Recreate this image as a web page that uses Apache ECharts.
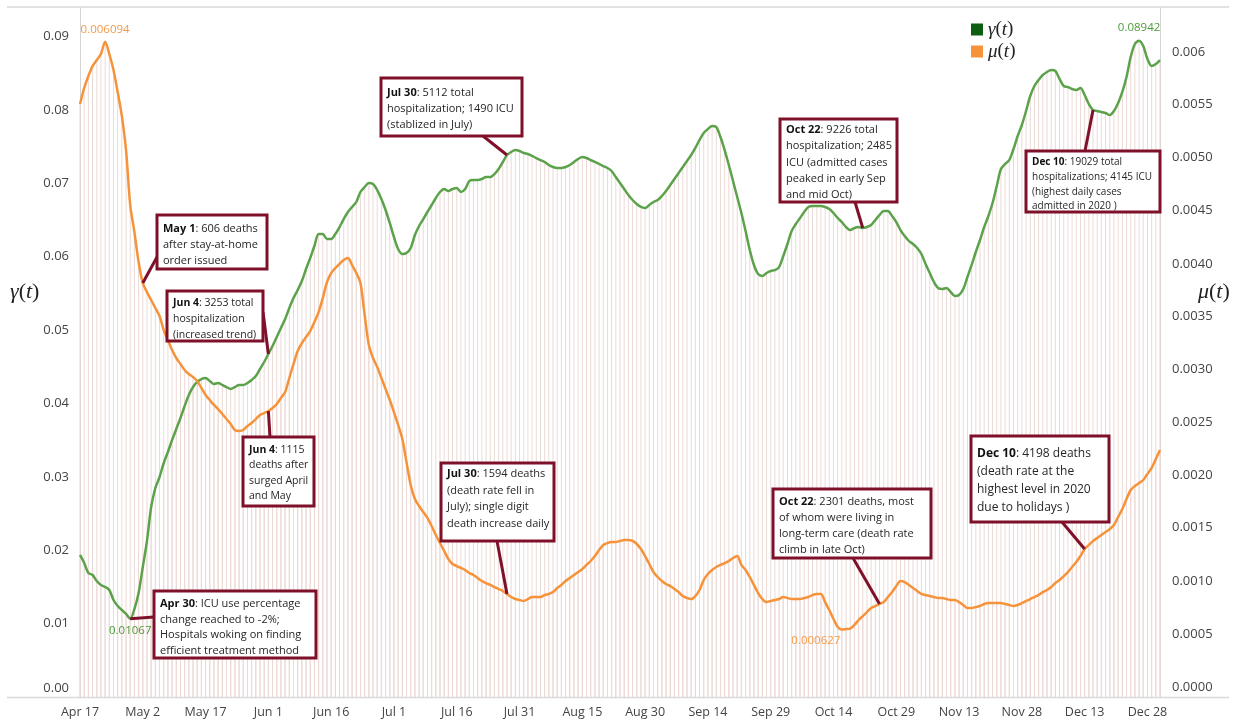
<!DOCTYPE html>
<html><head><meta charset="utf-8">
<script src="https://cdn.jsdelivr.net/npm/echarts@6/dist/echarts.min.js"></script>
<style>html,body{margin:0;padding:0;background:#fff}#c{width:1235px;height:725px}</style>
</head><body><div id="c"></div>
<script>
// ---------- data ----------
const monthNames = ['Jan','Feb','Mar','Apr','May','Jun','Jul','Aug','Sep','Oct','Nov','Dec'];
const firstDay = [2020, 3, 17];   // Apr 17, 2020
const dayCount = 259;             // through Dec 31
const categories = [];
for (let i = 0; i < dayCount; i++) {
  const d = new Date(Date.UTC(firstDay[0], firstDay[1], firstDay[2] + i));
  categories.push(monthNames[d.getUTCMonth()] + ' ' + d.getUTCDate());
}

// gamma(t) – left axis
const gamma = [
0.01935,0.01826,0.01689,0.01662,0.01580,0.01526,0.01499,0.01458,0.01322,0.01240,
0.01185,0.01131,0.01067,0.01199,0.01417,0.01771,0.02125,0.02589,0.02847,0.02997,
0.03188,0.03338,0.03501,0.03651,0.03801,0.03965,0.04114,0.04223,0.04292,0.04332,
0.04346,0.04305,0.04264,0.04278,0.04251,0.04223,0.04196,0.04223,0.04251,0.04251,
0.04278,0.04319,0.04373,0.04469,0.04564,0.04673,0.04782,0.04905,0.05027,0.05150,
0.05300,0.05436,0.05545,0.05668,0.05831,0.05981,0.06144,0.06308,0.06308,0.06240,
0.06240,0.06308,0.06403,0.06512,0.06608,0.06676,0.06744,0.06880,0.06948,0.07003,
0.06989,0.06907,0.06785,0.06635,0.06458,0.06267,0.06104,0.06035,0.06049,0.06117,
0.06294,0.06417,0.06512,0.06608,0.06703,0.06798,0.06880,0.06921,0.06894,0.06921,
0.06935,0.06880,0.06921,0.07030,0.07044,0.07044,0.07057,0.07084,0.07084,0.07125,
0.07193,0.07289,0.07384,0.07425,0.07452,0.07439,0.07411,0.07398,0.07371,0.07343,
0.07316,0.07289,0.07248,0.07221,0.07207,0.07207,0.07221,0.07248,0.07289,0.07330,
0.07357,0.07343,0.07316,0.07289,0.07262,0.07234,0.07207,0.07166,0.07084,0.07003,
0.06921,0.06839,0.06771,0.06717,0.06676,0.06662,0.06703,0.06744,0.06771,0.06826,
0.06894,0.06975,0.07057,0.07139,0.07221,0.07302,0.07384,0.07480,0.07589,0.07684,
0.07738,0.07779,0.07766,0.07629,0.07452,0.07248,0.07030,0.06812,0.06594,0.06349,
0.06090,0.05886,0.05763,0.05736,0.05777,0.05804,0.05817,0.05858,0.06008,0.06172,
0.06349,0.06444,0.06526,0.06608,0.06676,0.06689,0.06689,0.06689,0.06676,0.06649,
0.06594,0.06526,0.06471,0.06403,0.06362,0.06390,0.06403,0.06390,0.06403,0.06431,
0.06499,0.06567,0.06621,0.06621,0.06553,0.06471,0.06362,0.06281,0.06213,0.06172,
0.06117,0.06035,0.05899,0.05777,0.05654,0.05572,0.05559,0.05572,0.05518,0.05463,
0.05477,0.05559,0.05722,0.05886,0.06063,0.06226,0.06403,0.06553,0.06730,0.06962,
0.07193,0.07262,0.07316,0.07466,0.07643,0.07793,0.07984,0.08188,0.08324,0.08406,
0.08474,0.08515,0.08542,0.08529,0.08420,0.08324,0.08311,0.08283,0.08270,0.08297,
0.08202,0.08079,0.07997,0.07984,0.07970,0.07956,0.07929,0.07984,0.08093,0.08243,
0.08447,0.08719,0.08896,0.08942,0.08869,0.08692,0.08597,0.08624,0.08678
];

// mu(t) – right axis
const mu = [
0.005515,0.005664,0.005775,0.005868,0.005924,0.005980,0.006094,0.005980,0.005831,0.005626,
0.005403,0.005087,0.004575,0.004324,0.004045,0.003850,0.003766,0.003692,0.003618,0.003543,
0.003413,0.003320,0.003227,0.003153,0.003097,0.003041,0.003004,0.002976,0.002939,0.002874,
0.002809,0.002762,0.002716,0.002678,0.002632,0.002585,0.002539,0.002483,0.002474,0.002483,
0.002520,0.002548,0.002585,0.002623,0.002641,0.002660,0.002688,0.002725,0.002781,0.002836,
0.002967,0.003097,0.003218,0.003292,0.003348,0.003404,0.003487,0.003580,0.003711,0.003859,
0.003943,0.003990,0.004027,0.004064,0.004083,0.004017,0.003943,0.003850,0.003553,0.003274,
0.003153,0.003069,0.002967,0.002864,0.002762,0.002650,0.002530,0.002399,0.002185,0.001972,
0.001841,0.001776,0.001720,0.001665,0.001590,0.001507,0.001432,0.001358,0.001283,0.001237,
0.001218,0.001200,0.001181,0.001153,0.001135,0.001107,0.001079,0.001060,0.001042,0.001023,
0.001004,0.000986,0.000958,0.000930,0.000911,0.000902,0.000893,0.000911,0.000930,0.000930,
0.000930,0.000949,0.000958,0.000976,0.001014,0.001042,0.001079,0.001107,0.001135,0.001162,
0.001190,0.001228,0.001265,0.001311,0.001367,0.001414,0.001432,0.001441,0.001441,0.001451,
0.001460,0.001460,0.001451,0.001423,0.001376,0.001311,0.001237,0.001162,0.001116,0.001079,
0.001051,0.001032,0.001004,0.000976,0.000939,0.000921,0.000911,0.000939,0.000995,0.001088,
0.001144,0.001181,0.001209,0.001228,0.001246,0.001265,0.001293,0.001311,0.001228,0.001181,
0.001116,0.001042,0.000967,0.000911,0.000883,0.000893,0.000902,0.000911,0.000930,0.000921,
0.000911,0.000911,0.000911,0.000921,0.000930,0.000949,0.000958,0.000958,0.000883,0.000809,
0.000725,0.000651,0.000627,0.000632,0.000636,0.000670,0.000716,0.000753,0.000790,0.000828,
0.000846,0.000865,0.000883,0.000930,0.000976,0.001032,0.001079,0.001069,0.001042,0.001014,
0.000986,0.000958,0.000949,0.000939,0.000930,0.000921,0.000921,0.000911,0.000902,0.000902,
0.000883,0.000856,0.000828,0.000828,0.000837,0.000846,0.000865,0.000874,0.000874,0.000874,
0.000874,0.000865,0.000856,0.000846,0.000856,0.000874,0.000893,0.000911,0.000930,0.000949,
0.000976,0.000995,0.001023,0.001060,0.001088,0.001125,0.001162,0.001209,0.001255,0.001311,
0.001376,0.001414,0.001451,0.001479,0.001507,0.001534,0.001562,0.001600,0.001674,0.001748,
0.001841,0.001925,0.001962,0.001990,0.002018,0.002074,0.002130,0.002213,0.002297
];

const seriesNames = ['γ(t)', 'μ(t)'];

// annotation texts (series: 0 = gamma, 1 = mu; at = category index the callout points to)
const notes = [
  {series: 0, at: 12,  head: 'Apr 30', body: ': ICU use percentage\nchange reached to -2%;\nHospitals woking on finding\nefficient treatment method'},
  {series: 1, at: 15,  head: 'May 1',  body: ': 606 deaths\nafter stay-at-home\norder issued'},
  {series: 0, at: 45,  head: 'Jun 4',  body: ': 3253 total\nhospitalization\n(increased trend)'},
  {series: 1, at: 45,  head: 'Jun 4',  body: ': 1115\ndeaths after\nsurged April\nand May'},
  {series: 0, at: 102, head: 'Jul 30', body: ': 5112 total\nhospitalization; 1490 ICU\n(stablized in July)'},
  {series: 1, at: 102, head: 'Jul 30', body: ': 1594 deaths\n(death rate fell in\nJuly); single digit\ndeath increase daily'},
  {series: 0, at: 187, head: 'Oct 22', body: ': 9226 total\nhospitalization; 2485\nICU (admitted cases\npeaked in early Sep\nand mid Oct)'},
  {series: 1, at: 191, head: 'Oct 22', body: ': 2301 deaths, most\nof whom were living in\nlong-term care (death rate\nclimb in late Oct)'},
  {series: 0, at: 242, head: 'Dec 10', body: ': 19029 total\nhospitalizations; 4145 ICU\n(highest daily cases\nadmitted in 2020 )'},
  {series: 1, at: 240, head: 'Dec 10', body: ': 4198 deaths\n(death rate at the\nhighest level in 2020\ndue to holidays )'}
];

// ---------- layout / style ----------
const noteLayout = [
  {box: [154, 591, 162, 67], end: [154, 617], fs: 11,   lh: 15.7, pad: 3},
  {box: [157, 215, 110, 54], end: [157, 257], fs: 11,   lh: 16,   pad: 4},
  {box: [167, 291, 96, 50],  end: [263, 312], fs: 10.5, lh: 16,   pad: 2},
  {box: [243, 437, 71, 69],  end: [270, 437], fs: 10.5, lh: 15.5, pad: 3},
  {box: [381, 78, 141, 58],  end: [483, 136], fs: 11,   lh: 16,   pad: 5},
  {box: [441, 463, 113, 78], end: [497, 541], fs: 11,   lh: 16.5, pad: 1},
  {box: [780, 119, 117, 83], end: [855, 202], fs: 11,   lh: 16.2, pad: 1},
  {box: [773, 489, 158, 69], end: [853, 558], fs: 11,   lh: 16,   pad: 3},
  {box: [1026, 151, 134, 61], end: [1085, 151], fs: 10, lh: 14.7, pad: 2},
  {box: [971, 436, 138, 86],  end: [1062, 522], fs: 12,  lh: 17.8, pad: 7}
];
const FONT = '"Open Sans", "Noto Sans", sans-serif';
const GREEN = '#5ca24b', GREEN_DARK = '#0d5e10', ORANGE = '#f5923a', RED = '#7e1129', HATCH = '#ebdad6';

function markLinesFor(si) {
  const vals = si === 0 ? gamma : mu;
  const out = [];
  notes.forEach((n, k) => {
    if (n.series !== si) return;
    const L = noteLayout[k];
    out.push([{coord: [categories[n.at], vals[n.at]]}, {x: L.end[0], y: L.end[1]}]);
  });
  return out;
}

const graphics = [];
notes.forEach((n, k) => {
  const L = noteLayout[k];
  graphics.push({type: 'rect', z: 100, shape: {x: L.box[0], y: L.box[1], width: L.box[2], height: L.box[3]},
    style: {fill: '#fff', stroke: RED, lineWidth: 3}});
  graphics.push({type: 'text', z: 101, x: L.box[0] + 6, y: L.box[1] + L.pad + 2,
    style: {text: '{b|' + n.head + '}' + n.body,
            fill: '#262626', fontFamily: FONT, fontSize: L.fs, lineHeight: L.lh,
            verticalAlign: 'top',
            rich: {b: {fontWeight: 'bold', fill: '#111', fontFamily: FONT, fontSize: L.fs, lineHeight: L.lh}}}});
});
// frame lines
graphics.push({type: 'line', z: 0, shape: {x1: 7, y1: 7, x2: 1229, y2: 7}, style: {stroke: '#e2e2e2', lineWidth: 2}});
graphics.push({type: 'line', z: 0, shape: {x1: 7, y1: 697.5, x2: 1229, y2: 697.5}, style: {stroke: '#d9d9d9', lineWidth: 1.5}});
// axis titles
const titleRich = {
  i: {fontFamily: '"Liberation Serif", "DejaVu Serif", serif', fontStyle: 'italic', fontSize: 22, fill: '#222'},
  u: {fontFamily: '"Liberation Serif", "DejaVu Serif", serif', fontSize: 22, fill: '#222'}
};
graphics.push({type: 'text', z: 50, x: 10, y: 281, style: {text: '{i|γ}{u|(}{i|t}{u|)}', rich: titleRich, verticalAlign: 'top'}});
graphics.push({type: 'text', z: 50, x: 1198, y: 281, style: {text: '{i|μ}{u|(}{i|t}{u|)}', rich: titleRich, verticalAlign: 'top'}});

const rightRich = {};
for (let k = 0; k <= 10; k++) rightRich['p' + k] = {padding: [0, 0, 2 * k, 0], fontSize: 13, color: '#444', fontFamily: FONT};

const chart = echarts.init(document.getElementById('c'), null, {renderer: 'canvas'});
chart.setOption({
  animation: false,
  backgroundColor: '#fff',
  grid: {left: 80, right: 75, top: 8, bottom: 28, containLabel: false},
  legend: {
    data: [{name: seriesNames[0], itemStyle: {color: GREEN_DARK}}, {name: seriesNames[1], itemStyle: {color: ORANGE}}],
    orient: 'vertical', left: 966, top: 15, icon: 'rect', itemWidth: 12, itemHeight: 12, itemGap: 3,
    selectedMode: false,
    formatter: name => name === seriesNames[0] ? '{i|γ}{u|(}{i|t}{u|)}' : '{i|μ}{u|(}{i|t}{u|)}',
    textStyle: {lineHeight: 16, rich: {
      i: {fontFamily: '"Liberation Serif", serif', fontStyle: 'italic', fontSize: 19, color: '#222', lineHeight: 16},
      u: {fontFamily: '"Liberation Serif", serif', fontSize: 19, color: '#222', lineHeight: 16}}}
  },
  xAxis: {
    type: 'category', data: categories, boundaryGap: false,
    axisLine: {show: false}, axisTick: {show: false},
    axisLabel: {interval: 14, color: '#444', fontSize: 12.5, fontFamily: FONT, margin: 9}
  },
  yAxis: [
    {type: 'value', position: 'left', min: 0, max: 0.09387, interval: 0.01,
     splitLine: {show: false}, axisTick: {show: false},
     axisLine: {show: true, lineStyle: {color: '#d4d4d4', width: 1}},
     axisLabel: {showMaxLabel: false, margin: 11, fontSize: 13, color: '#444', fontFamily: FONT,
       formatter: v => v === 0 ? '{lift|0.00}' : '{n|' + v.toFixed(2) + '}',
       rich: {lift: {padding: [0, 0, 18, 0], fontSize: 13, color: '#444', fontFamily: FONT},
              n: {fontSize: 13, color: '#444', fontFamily: FONT}}}},
    {type: 'value', position: 'right', min: 0, max: 0.006408, interval: 0.0005,
     splitLine: {show: false}, axisTick: {show: false},
     axisLine: {show: true, lineStyle: {color: '#d4d4d4', width: 1}},
     axisLabel: {showMaxLabel: false, margin: 12, fontSize: 13, color: '#444', fontFamily: FONT,
       formatter: v => {
         const s = v >= 0.006 - 1e-12 ? v.toFixed(3) : v.toFixed(4);
         const k = Math.max(0, Math.min(10, Math.round((0.006 - v) / 0.0006)));
         return '{p' + k + '|' + s + '}';
       },
       rich: rightRich}}
  ],
  series: [
    {name: 'γ hatch', type: 'bar', yAxisIndex: 0, data: gamma, barWidth: 1, barGap: '-100%',
     itemStyle: {color: HATCH}, silent: true, z: 1},
    {name: 'μ hatch', type: 'bar', yAxisIndex: 1, data: mu, barWidth: 1, barGap: '-100%',
     itemStyle: {color: HATCH}, silent: true, z: 1},
    {name: seriesNames[0], type: 'line', yAxisIndex: 0, data: gamma, showSymbol: false, smooth: 0.3,
     lineStyle: {color: GREEN, width: 2.5}, itemStyle: {color: GREEN_DARK}, z: 3,
     markPoint: {symbol: 'circle', symbolSize: 1, itemStyle: {color: 'rgba(0,0,0,0)'}, silent: true,
       label: {show: true, color: '#4d9a3a', fontSize: 11.5, fontFamily: FONT, formatter: p => String(p.value)},
       data: [{type: 'max', label: {position: 'top', distance: 6}}, {type: 'min', label: {position: 'bottom', distance: 6}}]},
     markLine: {silent: true, symbol: ['none', 'none'], label: {show: false},
       lineStyle: {color: RED, width: 3, type: 'solid'}, emphasis: {disabled: true}, data: markLinesFor(0)}},
    {name: seriesNames[1], type: 'line', yAxisIndex: 1, data: mu, showSymbol: false, smooth: 0.3,
     lineStyle: {color: ORANGE, width: 2.5}, itemStyle: {color: ORANGE}, z: 3,
     markPoint: {symbol: 'circle', symbolSize: 1, itemStyle: {color: 'rgba(0,0,0,0)'}, silent: true,
       label: {show: true, color: '#f39a48', fontSize: 11.5, fontFamily: FONT, formatter: p => String(p.value)},
       data: [{type: 'max', label: {position: 'top', distance: 6}}, {type: 'min', label: {position: 'bottom', distance: 5, offset: [-26, 0]}}]},
     markLine: {silent: true, symbol: ['none', 'none'], label: {show: false},
       lineStyle: {color: RED, width: 3, type: 'solid'}, emphasis: {disabled: true}, data: markLinesFor(1)}}
  ],
  graphic: graphics
});
</script>
</body></html>
